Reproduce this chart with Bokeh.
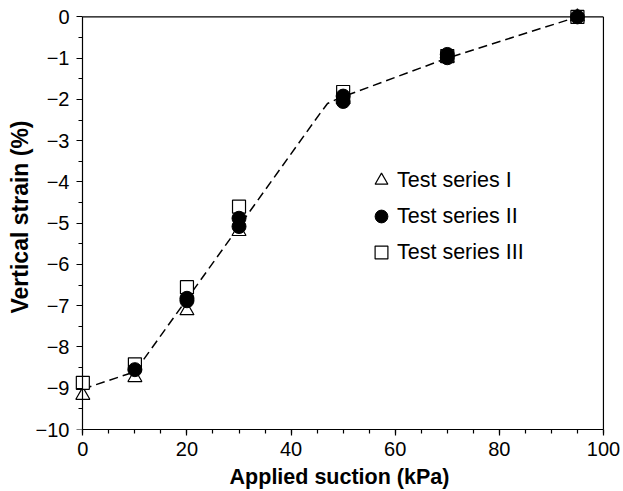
from bokeh.plotting import figure
from bokeh.models import Legend, LegendItem, FixedTicker, Range1d, LinearAxis
from bokeh.embed import file_html
from bokeh.resources import INLINE

# Data
x_I = [0, 10, 20, 30, 50, 70, 95]
y_I = [-9.17, -8.74, -7.12, -5.2, -2.0, -1.0, 0.0]

x_II = [10, 20, 20, 30, 30, 50, 50, 70, 70, 95]
y_II = [-8.55, -6.88, -6.82, -5.08, -4.88, -2.05, -1.92, -0.99, -0.91, 0.0]

x_III = [0, 10, 20, 30, 50, 70, 95]
y_III = [-8.87, -8.42, -6.55, -4.6, -1.82, -0.95, 0.0]

trend_x = [0, 10, 45.5, 47, 49, 70, 95]
trend_y = [-9.02, -8.6, -2.35, -2.1, -1.98, -1.0, 0.0]

x_ticks = [0, 20, 40, 60, 80, 100]
y_ticks = [0, -1, -2, -3, -4, -5, -6, -7, -8, -9, -10]
y_tick_labels = ["0", "\u22121", "\u22122", "\u22123", "\u22124", "\u22125",
                 "\u22126", "\u22127", "\u22128", "\u22129", "\u221210"]
y_minor = [-9.5, -8.5, -7.5, -6.5, -5.5, -4.5, -3.5, -2.5, -1.5, -0.5]

X_MIN, X_MAX = 0, 100
Y_MIN, Y_MAX = -10, 0

FONT = "Liberation Sans"

p = figure(width=623, height=491, output_backend="svg", toolbar_location=None,
           x_range=Range1d(-1.6, 100.2), y_range=Range1d(-10, 0.3))
p.min_border_left = 74
p.min_border_right = 19
p.min_border_top = 4
p.min_border_bottom = 60
p.background_fill_color = "white"
p.border_fill_color = "white"
p.outline_line_color = None
p.grid.visible = False

p.xaxis.ticker = FixedTicker(ticks=x_ticks, minor_ticks=list(range(0, 101, 5)))
p.xaxis.bounds = (X_MIN, X_MAX)
xa = p.xaxis[0]
xa.axis_line_color = "black"
xa.axis_line_width = 1.2
xa.major_tick_line_color = "black"
xa.minor_tick_line_color = "black"
xa.major_tick_line_width = 1.2
xa.minor_tick_line_width = 1.2
xa.major_tick_in = 0
xa.major_tick_out = 6
xa.minor_tick_in = 0
xa.minor_tick_out = 4
xa.major_label_text_font = FONT
xa.major_label_text_font_size = "20px"
xa.major_label_text_color = "black"
xa.major_label_standoff = 6
xa.axis_label = "Applied suction (kPa)"
xa.axis_label_text_font = FONT
xa.axis_label_text_font_style = "bold"
xa.axis_label_text_font_size = "21.5px"
xa.axis_label_text_color = "black"
xa.axis_label_standoff = 6

# left axis: labels and title only (line/ticks drawn by fixed axes at x=0)
ya = p.yaxis[0]
ya.ticker = FixedTicker(ticks=y_ticks, minor_ticks=[])
ya.major_label_overrides = {t: l for t, l in zip(y_ticks, y_tick_labels)}
ya.axis_line_color = None
ya.major_tick_line_color = None
ya.minor_tick_line_color = None
ya.major_tick_in = 0
ya.major_tick_out = 0
ya.minor_tick_in = 0
ya.minor_tick_out = 0
ya.major_label_standoff = 5
ya.major_label_text_font = FONT
ya.major_label_text_font_size = "20px"
ya.major_label_text_color = "black"
ya.axis_label = "Vertical strain (%)"
ya.axis_label_text_font = FONT
ya.axis_label_text_font_style = "bold"
ya.axis_label_text_font_size = "23px"
ya.axis_label_text_color = "black"
ya.axis_label_standoff = 0


def tick_axis(positions, length, draw_line):
    ax = LinearAxis(fixed_location=X_MIN, bounds=(Y_MIN, Y_MAX),
                    ticker=FixedTicker(ticks=[], minor_ticks=positions))
    ax.axis_line_color = "black" if draw_line else None
    ax.axis_line_width = 1.2
    ax.major_tick_line_color = None
    ax.minor_tick_line_color = "black"
    ax.minor_tick_line_width = 1.2
    ax.major_tick_in = 0
    ax.major_tick_out = 0
    ax.minor_tick_in = length
    ax.minor_tick_out = 0
    ax.major_label_standoff = 0
    return ax


p.add_layout(tick_axis(y_ticks, 6, True), "right")
p.add_layout(tick_axis(y_minor, 4, False), "right")

# frame top and right borders
p.segment(x0=[X_MIN, X_MAX], y0=[Y_MAX, Y_MIN], x1=[X_MAX, X_MAX], y1=[Y_MAX, Y_MAX],
          line_color="black", line_width=1.2)

p.line(trend_x, trend_y, line_color="black", line_width=1.5, line_dash="9 5")

r1 = p.scatter(x_I, y_I, marker="triangle", size=14, fill_color="white",
               line_color="black", line_width=1.2)
r3 = p.scatter(x_III, y_III, marker="square", size=13, fill_color="white",
               line_color="black", line_width=1.2)
r2 = p.scatter(x_II, y_II, marker="circle", size=14, fill_color="black",
               line_color="black")

legend = Legend(items=[LegendItem(label="Test series I", renderers=[r1]),
                       LegendItem(label="Test series II", renderers=[r2]),
                       LegendItem(label="Test series III", renderers=[r3])],
                location=(291, 161))
legend.border_line_color = None
legend.background_fill_alpha = 0
legend.padding = 0
legend.margin = 0
legend.spacing = 4
legend.glyph_width = 32
legend.glyph_height = 32
legend.label_height = 32
legend.label_standoff = 0
legend.label_text_font = FONT
legend.label_text_font_size = "21.5px"
legend.label_text_color = "black"
p.add_layout(legend)

open("out.html", "w").write(file_html(p, INLINE))
